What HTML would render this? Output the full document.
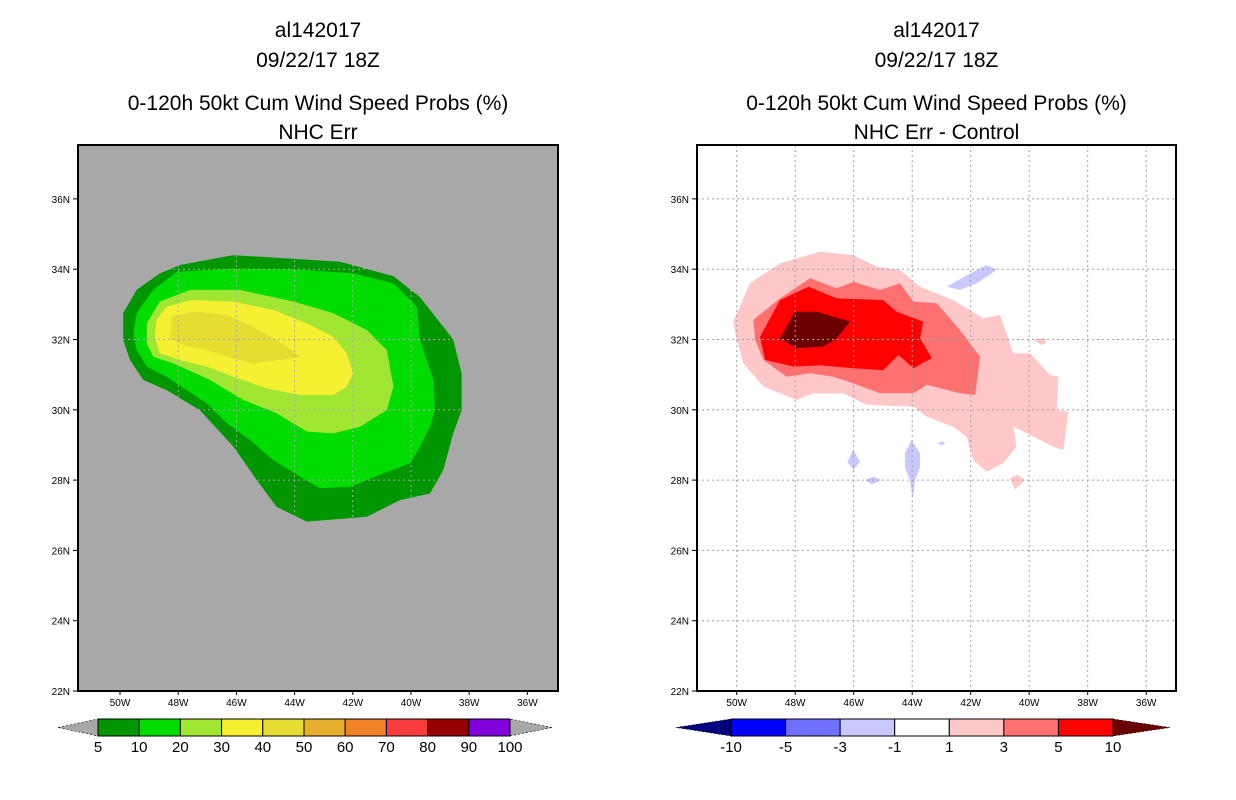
<!DOCTYPE html>
<html><head><meta charset="utf-8"><style>
body{margin:0;background:#fff;}
svg{display:block;font-family:"Liberation Sans",sans-serif;}
</style></head><body>
<svg id="s" width="1236" height="800" xmlns="http://www.w3.org/2000/svg"></svg>
<script>
// ---- data ----
const latTicks=[22,24,26,28,30,32,34,36];
const lonTicks=[50,48,46,44,42,40,38,36];
const leftLevels=["5","10","20","30","40","50","60","70","80","90","100"];
const leftColors=["#009600","#00dc00","#a0e632","#f5f032","#e6dc32","#e6af2d","#f08228","#fa3c3c","#960000","#8200dc"];
const rightLevels=["-10","-5","-3","-1","1","3","5","10"];
const rightColors=["#0000ff","#7070ff","#c8c8ff","#ffffff","#ffc8c8","#ff7070","#ff0000"];
// left contours [lonW, latN]
const L5=[[47.94,34.12],[46.1,34.4],[42.44,34.21],[40.6,33.8],[39.69,33.2],[38.89,32.36],[38.55,31.99],[38.26,31.04],[38.26,29.99],[38.55,29.33],[38.89,28.29],[39.35,27.62],[40.38,27.43],[41.52,26.96],[43.58,26.82],[44.62,27.24],[45.3,28.0],[46.1,28.95],[47.25,29.99],[48.4,30.56],[49.2,30.85],[49.66,31.42],[49.89,31.99],[49.89,32.75],[49.43,33.41],[48.63,33.88]];
const L10=[[48.05,33.93],[46.1,34.02],[44.04,34.0],[41.98,33.88],[40.6,33.6],[39.8,32.93],[39.69,31.99],[39.23,30.85],[39.18,29.99],[39.35,29.52],[39.69,28.95],[40.03,28.48],[40.95,28.19],[42.1,27.81],[43.13,27.77],[43.81,28.1],[44.73,28.57],[45.53,29.14],[46.33,29.62],[47.02,30.18],[47.71,30.56],[48.4,30.94],[49.08,31.23],[49.43,31.7],[49.54,32.18],[49.43,32.75],[48.86,33.41]];
const L20=[[48.63,33.08],[47.59,33.41],[45.88,33.41],[44.04,33.08],[42.67,32.75],[41.52,32.27],[40.83,31.7],[40.6,30.66],[40.83,29.99],[41.75,29.52],[42.67,29.33],[43.58,29.38],[44.62,29.9],[45.76,30.28],[46.91,30.85],[48.17,31.32],[48.86,31.51],[49.08,31.89],[49.08,32.46]];
const L30=[[48.4,32.93],[47.59,33.12],[46.1,33.08],[44.73,32.84],[43.58,32.46],[42.67,32.08],[42.21,31.61],[41.98,31.04],[42.21,30.66],[42.67,30.42],[43.81,30.42],[44.96,30.61],[46.1,30.94],[47.02,31.23],[47.94,31.42],[48.63,31.61],[48.8,32.08],[48.74,32.56]];
const L40=[[48.22,32.65],[47.48,32.79],[46.33,32.7],[45.42,32.36],[44.62,31.99],[43.81,31.51],[44.5,31.42],[45.42,31.32],[46.1,31.46],[47.02,31.7],[47.82,31.84],[48.28,32.03]];
// right contours
const R1=[[50.12,32.51],[49.55,33.6],[48.52,34.17],[47.15,34.5],[46.01,34.4],[45.21,34.07],[44.42,33.98],[43.73,33.5],[42.59,33.12],[41.57,32.6],[41.0,32.7],[40.54,31.61],[39.97,31.61],[39.29,30.99],[39.0,30.94],[39.06,29.99],[38.66,29.95],[38.83,28.86],[39.18,28.95],[40.31,29.43],[40.54,29.52],[40.43,28.95],[40.89,28.48],[41.45,28.24],[41.91,28.57],[42.14,29.23],[42.59,29.52],[43.5,29.8],[43.96,30.09],[45.56,30.14],[46.36,30.47],[47.38,30.47],[47.95,30.28],[49.09,30.66],[49.77,31.32],[50.0,31.99]];
const R3=[[49.43,32.56],[48.52,33.17],[47.49,33.74],[46.58,33.46],[46.01,33.64],[45.1,33.41],[44.42,33.6],[43.96,33.08],[43.16,33.03],[42.37,32.27],[41.68,31.51],[41.85,30.42],[42.37,30.47],[43.5,30.71],[43.96,30.47],[45.1,30.47],[46.01,30.75],[46.7,30.94],[47.49,31.04],[48.29,30.94],[49.09,31.42],[49.37,31.99]];
const R5=[[49.2,32.08],[48.52,33.12],[47.55,33.5],[46.58,33.17],[44.99,33.12],[44.53,32.79],[43.62,32.51],[43.73,32.03],[43.33,31.47],[43.96,31.18],[44.47,31.56],[44.99,31.13],[46.01,31.18],[47.15,31.27],[48.06,31.23],[49.03,31.42]];
const R10=[[48.52,32.03],[48.01,32.79],[47.26,32.79],[46.13,32.51],[46.58,32.03],[47.04,31.8],[47.95,31.75]];
const Rpink1=[[40.66,28.05],[40.43,28.15],[40.14,28.0],[40.49,27.72]];
const Rpink2=[[39.86,31.99],[39.46,32.03],[39.43,31.89],[39.57,31.84]];
const Rneg1=[[42.82,33.5],[41.91,33.93],[41.45,34.12],[41.11,33.98],[41.79,33.6],[42.37,33.41]];
const Rneg2=[[46.01,28.86],[45.78,28.52],[46.01,28.29],[46.22,28.52]];
const Rneg3=[[45.61,28.0],[45.33,28.1],[45.04,28.0],[45.38,27.88]];
const Rneg4=[[44.02,29.14],[43.73,28.76],[43.73,28.38],[43.9,28.0],[43.98,27.48],[44.08,28.0],[44.25,28.38],[44.25,28.76]];
const Rneg5=[[42.99,29.1],[42.85,29.05],[42.99,29.0],[43.13,29.05]];

// ---- drawing ----
const S=document.getElementById('s');const NS='http://www.w3.org/2000/svg';
function el(t,a,p){const e=document.createElementNS(NS,t);for(const k in a)e.setAttribute(k,a[k]);(p||S).appendChild(e);return e;}
function panel(x0,x1,lon50x,dlon){
  return {x0:x0,x1:x1,y0:145,y1:691,X:l=>lon50x+(50-l)*dlon,Y:la=>691-(la-22)*35.15};
}
const P=[panel(78,558,120,29.1),panel(697,1176,736.7,29.25)];
function poly(p,pts,fill,name){const d=pts.map(q=>p.X(q[0]).toFixed(1)+','+p.Y(q[1]).toFixed(1)).join(' ');
  const e=el('polygon',{points:d,fill:fill});
  
  }
function text(x,y,s,size,anchor,name){const t=el('text',{x:x,y:y,'font-size':size,'text-anchor':anchor||'middle',fill:'#000'});t.textContent=s;
  
  return t;}

function drawPanel(p,bg,titles,contours,gridCol){
  const r=el('rect',{x:p.x0,y:p.y0,width:p.x1-p.x0,height:p.y1-p.y0,fill:bg});
  
  
  contours.forEach(c=>poly(p,c[0],c[1],c[2]));
  const cx=(p.x0+p.x1)/2;
  text(cx,37,titles[0],21,'middle','storm-id-title');
  text(cx,67,titles[1],21,'middle','date-title');
  text(cx,110,titles[2],21,'middle','product-title');
  text(cx,139,titles[3],21,'middle','subtitle');
  latTicks.forEach(la=>{const y=p.Y(la);
    const g=el('line',{x1:p.x0,x2:p.x1,y1:y,y2:y,stroke:gridCol,'stroke-width':1,'stroke-dasharray':'2,3'});
    
    
    el('line',{x1:p.x0-5,x2:p.x0,y1:y,y2:y,stroke:'#000'});
    text(p.x0-8,y+4,la+'N',10,'end','lat-tick-label');});
  lonTicks.forEach(lo=>{const x=p.X(lo);
    const g=el('line',{x1:x,x2:x,y1:p.y0,y2:p.y1,stroke:gridCol,'stroke-width':1,'stroke-dasharray':'2,3'});
    
    
    el('line',{x1:x,x2:x,y1:p.y1,y2:p.y1+4,stroke:'#000'});
    text(x,p.y1+15,lo+'W',10,'middle','lon-tick-label');});
  const f=el('rect',{x:p.x0,y:p.y0,width:p.x1-p.x0,height:p.y1-p.y0,fill:'none',stroke:'#000','stroke-width':2});
  
  
}
drawPanel(P[0],'#a8a8a8',['al142017','09/22/17 18Z','0-120h 50kt Cum Wind Speed Probs (%)','NHC Err'],
 [[L5,leftColors[0],'contour-5'],[L10,leftColors[1],'contour-10'],[L20,leftColors[2],'contour-20'],[L30,leftColors[3],'contour-30'],[L40,leftColors[4],'contour-40']],'#a8a8a8');
drawPanel(P[1],'#ffffff',['al142017','09/22/17 18Z','0-120h 50kt Cum Wind Speed Probs (%)','NHC Err - Control'],
 [[R1,rightColors[4],'diff-contour-1'],[R3,rightColors[5],'diff-contour-3'],[R5,rightColors[6],'diff-contour-5'],[R10,'#6b0000','diff-contour-10'],
  [Rpink1,rightColors[4],'diff-contour-1-small'],[Rpink2,rightColors[4],'diff-contour-1-small'],
  [Rneg1,rightColors[2],'diff-contour-neg1'],[Rneg2,rightColors[2],'diff-contour-neg1'],[Rneg3,rightColors[2],'diff-contour-neg1'],[Rneg4,rightColors[2],'diff-contour-neg1'],[Rneg5,rightColors[2],'diff-contour-neg1']],'#a0a0a0');

function colorbar(x0,x1,y,colors,labels,lcol,rcol,tipL,tipR,name){
  const g=el('g',{});
  
  
  const w=(x1-x0)/colors.length,h=17;
  el('polygon',{points:`${tipL},${y+h/2} ${x0},${y} ${x0},${y+h}`,fill:lcol,stroke:'#000','stroke-width':0.6,'stroke-dasharray':'2,2'},g);
  el('polygon',{points:`${tipR},${y+h/2} ${x1},${y} ${x1},${y+h}`,fill:rcol,stroke:'#000','stroke-width':0.6,'stroke-dasharray':'2,2'},g);
  colors.forEach((c,i)=>{el('rect',{x:x0+i*w,y:y,width:w,height:h,fill:c,stroke:'#000','stroke-width':1},g);});
  labels.forEach((s,i)=>{const t=el('text',{x:x0+i*w,y:y+33,'font-size':15,'text-anchor':'middle'},g);t.textContent=s;
    
    });
}
colorbar(98,510,719,leftColors,leftLevels,'#a8a8a8','#a8a8a8',58,552,'left-colorbar');
colorbar(731,1113,719,rightColors,rightLevels,'#00007f','#6b0000',676,1170,'right-colorbar');
</script>
</body></html>
